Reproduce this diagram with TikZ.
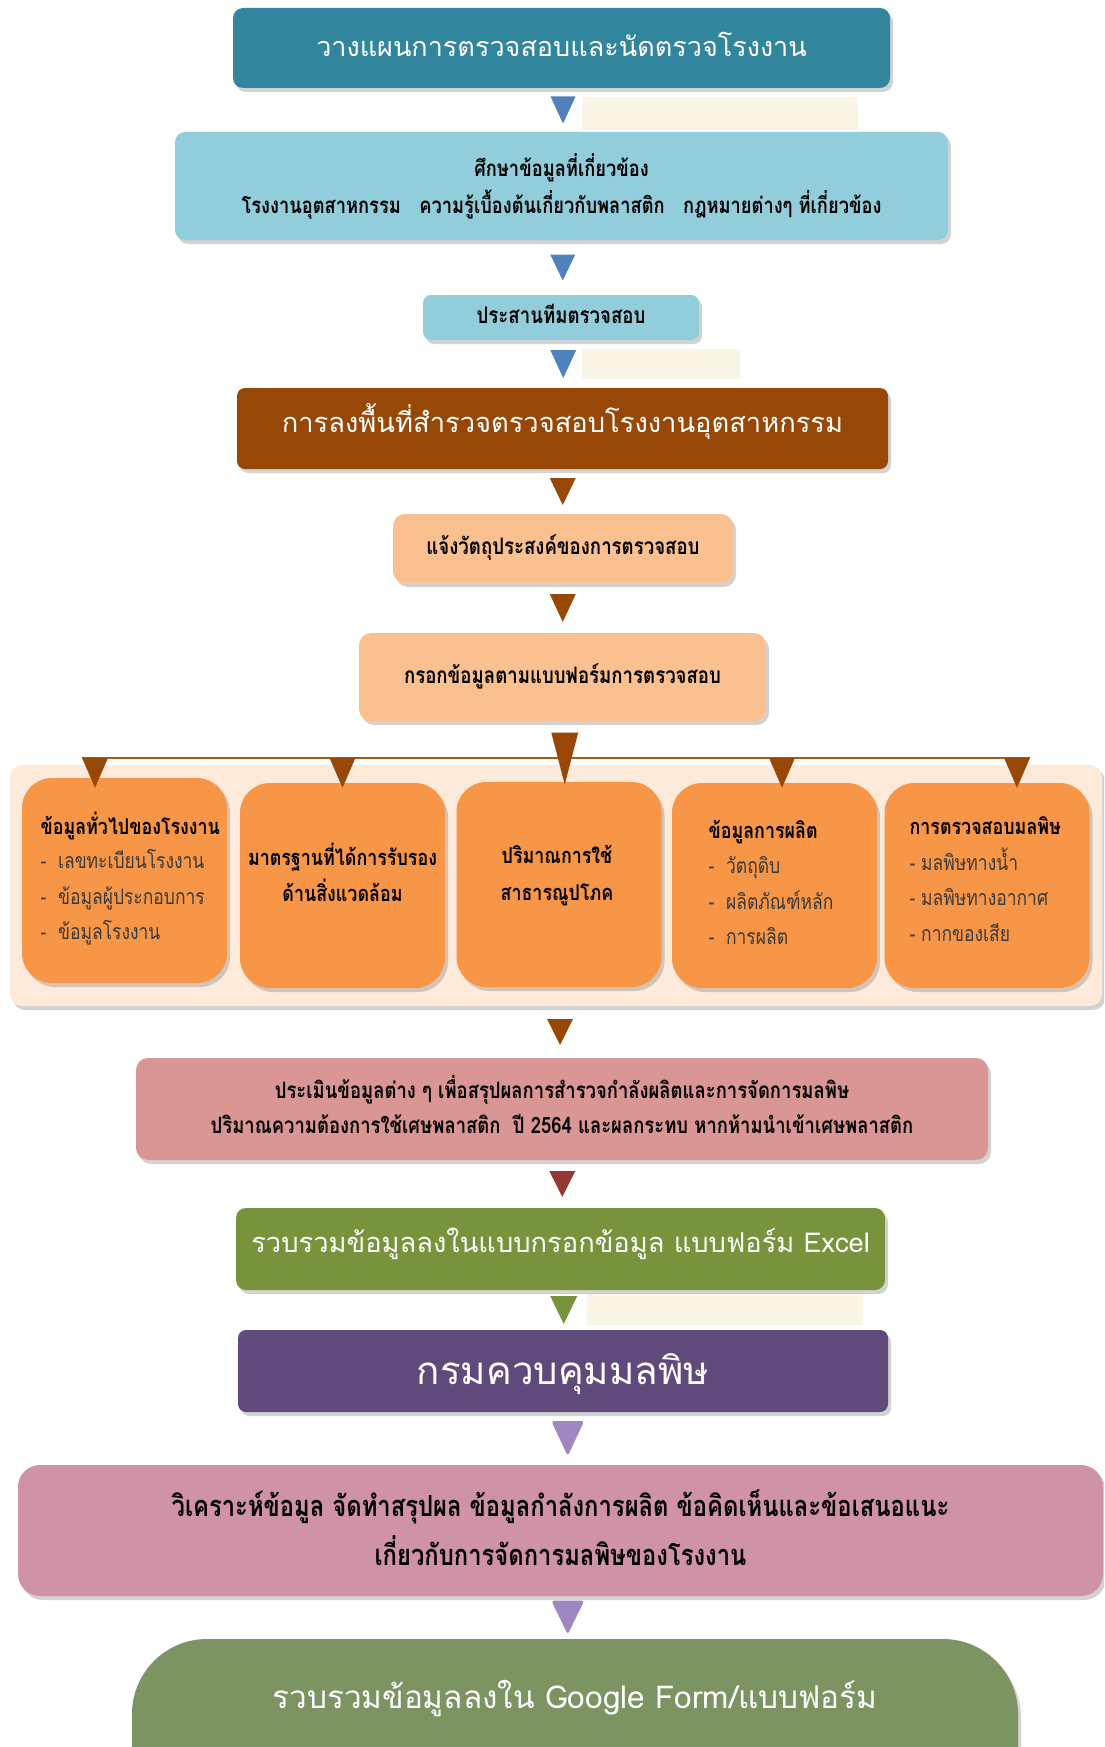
\documentclass[tikz,border=0pt]{standalone}
\usepackage{fontspec}
\setmainfont{Loma}[Script=Thai]
\newfontfamily\lw[Script=Thai]{Loma}
\newfontfamily\lc[Script=Thai,FakeStretch=0.82]{Loma}
\usetikzlibrary{shadows,calc}
\newcommand\rb[2]{\raisebox{#1}[\height][\depth]{#2}}
\definecolor{cTeal}{HTML}{31859C}
\definecolor{cBlueA}{HTML}{4F81BD}
\definecolor{cCream}{HTML}{FAF6E6}
\definecolor{cLBlue}{HTML}{92CDDC}
\definecolor{cBrown}{HTML}{974806}
\definecolor{cPeach}{HTML}{FAC090}
\definecolor{cPanel}{HTML}{FDEADA}
\definecolor{cOrange}{HTML}{F79646}
\definecolor{cPink}{HTML}{DA9694}
\definecolor{cDRed}{HTML}{953735}
\definecolor{cGreen}{HTML}{77933C}
\definecolor{cPurple}{HTML}{604A7B}
\definecolor{cLav}{HTML}{9F87C2}
\definecolor{cMauve}{HTML}{D092A6}
\definecolor{cSage}{HTML}{7B9461}
\definecolor{cFan}{HTML}{A65A1A}
\definecolor{cItem}{HTML}{3A3A3A}
\tikzset{
  box/.style={rounded corners=10pt, inner sep=0pt, align=center,
    drop shadow={opacity=0.35, shadow xshift=3pt, shadow yshift=-4pt}},
  whitetxt/.style={text=white, font=\lw\fontsize{#1}{#1}\selectfont},
  darktxt/.style 2 args={text=black, font=\lc\bfseries\fontsize{#1}{#2}\selectfont},
  itemtxt/.style={text=cItem, font=\lc\fontsize{21.3}{35.5}\selectfont, anchor=north west, align=left},
  pics/dtri/.style n args={3}{code={\fill[#1] (-#2/2,-#3/2) -- (#2/2,-#3/2) -- (0,#3/2) -- cycle;}}
}
\begin{document}
\begin{tikzpicture}[x=1pt,y=-1pt]
\useasboundingbox (0,0) rectangle (1104,1747);
\clip (0,0) rectangle (1104,1747);
\fill[white] (0,0) rectangle (1104,1747);

% cream strips
\fill[cCream] (582,97) rectangle (858,130);
\fill[cCream] (582,349) rectangle (740,379);
\fill[cCream] (587,1293) rectangle (863,1325);

% main chain
\node[box, fill=cTeal, minimum width=657, minimum height=80, whitetxt=27] (plan) at (561.5,48) {\rb{3.3pt}{วางแผนการตรวจสอบและนัดตรวจโรงงาน}};
\node[box, fill=cLBlue, minimum width=773, minimum height=108, darktxt={22.3}{37}] (study) at (561.5,186)
  {ศึกษาข้อมูลที่เกี่ยวข้อง\\ โรงงานอุตสาหกรรม\ \ \ ความรู้เบื้องต้นเกี่ยวกับพลาสติก\ \ \ กฎหมายต่างๆ ที่เกี่ยวข้อง};
\node[box, rounded corners=8pt, fill=cLBlue, minimum width=276, minimum height=45, darktxt={22.7}{27}] (team) at (561,317.5) {\rb{3.3pt}{ประสานทีมตรวจสอบ}};
\node[box, rounded corners=8pt, fill=cBrown, minimum width=651, minimum height=81, whitetxt=27.3] (field) at (562.5,428.5) {\rb{6.7pt}{การลงพื้นที่สำรวจตรวจสอบโรงงานอุตสาหกรรม}};
\node[box, rounded corners=12pt, fill=cPeach, minimum width=340, minimum height=69, darktxt={22.7}{27}] (notify) at (563,548.5) {\rb{1pt}{แจ้งวัตถุประสงค์ของการตรวจสอบ}};
\node[box, rounded corners=12pt, fill=cPeach, minimum width=407, minimum height=88, darktxt={22.7}{27}] (form) at (562.5,677) {\rb{1pt}{กรอกข้อมูลตามแบบฟอร์มการตรวจสอบ}};

% panel and five boxes
\node[box, rounded corners=12pt, fill=cPanel, minimum width=1092, minimum height=241] (panel) at (556,885.5) {};
\node[box, rounded corners=30pt, fill=cOrange, minimum width=205, minimum height=205] (b1) at (124.5,880.5) {};
\node[box, rounded corners=30pt, fill=cOrange, minimum width=205, minimum height=205] (b2) at (342.5,885.5) {};
\node[box, rounded corners=30pt, fill=cOrange, minimum width=205, minimum height=205] (b3) at (559,884.5) {};
\node[box, rounded corners=30pt, fill=cOrange, minimum width=205, minimum height=205] (b4) at (774.5,885.5) {};
\node[box, rounded corners=30pt, fill=cOrange, minimum width=205, minimum height=205] (b5) at (987,885.5) {};

\node[darktxt={21.8}{27}, anchor=west] (b1t) at (37,826) {ข้อมูลทั่วไปของโรงงาน};
\node[itemtxt] (b1i) at (37,846) {-\ \ เลขทะเบียนโรงงาน\\ -\ \ ข้อมูลผู้ประกอบการ\\ -\ \ ข้อมูลโรงงาน};
\node[darktxt={21.8}{36}, align=center] (b2t) at (342.5,872.5) {มาตรฐานที่ได้การรับรอง\\ ด้านสิ่งแวดล้อม};
\node[darktxt={21.8}{37}, align=center] (b3t) at (557,876) {ปริมาณการใช้\\ สาธารณูปโภค};
\node[darktxt={21.8}{27}, anchor=west] (b4t) at (705,832) {ข้อมูลการผลิต};
\node[itemtxt] (b4i) at (705,853.3) {-\ \ วัตถุดิบ\\ -\ \ ผลิตภัณฑ์หลัก\\ -\ \ การผลิต};
\node[darktxt={21.8}{27}, anchor=west] (b5t) at (906,826) {การตรวจสอบมลพิษ};
\node[itemtxt] (b5i) at (906,844) {- มลพิษทางน้ำ\\ - มลพิษทางอากาศ\\ - กากของเสีย};

% lower chain
\node[box, rounded corners=12pt, fill=cPink, minimum width=852, minimum height=102, darktxt={22.5}{35}] (eval) at (562,1109)
  {\begin{tabular}{@{}c@{}}ประเมินข้อมูลต่าง ๆ เพื่อสรุปผลการสำรวจกำลังผลิตและการจัดการมลพิษ\\ ปริมาณความต้องการใช้เศษพลาสติก\ \ ปี 2564 และผลกระทบ หากห้ามนำเข้าเศษพลาสติก\end{tabular}};
\node[box, rounded corners=10pt, fill=cGreen, minimum width=649, minimum height=82, whitetxt=27.3] (excel) at (560.5,1249) {\rb{5.5pt}{รวบรวมข้อมูลลงในแบบกรอกข้อมูล แบบฟอร์ม Excel}};
\node[box, rounded corners=8pt, fill=cPurple, minimum width=650, minimum height=82, whitetxt=38.5] (pcd) at (563,1371) {\rb{-3.3pt}{กรมควบคุมมลพิษ}};
\node[box, rounded corners=22pt, fill=cMauve, minimum width=1085, minimum height=131, darktxt={29}{49}] (anal) at (560.5,1530.5)
  {\rb{-1pt}{\begin{tabular}{@{}c@{}}วิเคราะห์ข้อมูล จัดทำสรุปผล ข้อมูลกำลังการผลิต ข้อคิดเห็นและข้อเสนอแนะ\\ เกี่ยวกับการจัดการมลพิษของโรงงาน\end{tabular}}};
\node[box, rounded corners=75pt, fill=cSage, minimum width=886, minimum height=200, drop shadow={opacity=0}] (gform) at (575,1739) {};
\node[whitetxt=31.5] (gformt) at (575,1698) {รวบรวมข้อมูลลงใน Google Form/แบบฟอร์ม};

% connectors (triangles)
\pic at ($(plan.south)!.5!(study.north)+(1.5,0)$) {dtri={cBlueA}{25}{27}};
\pic at ($(study.south)!.5!(team.north)+(1.5,0)$) {dtri={cBlueA}{25}{26}};
\pic at ($(team.south)!.5!(field.north)+(1.5,0)$) {dtri={cBlueA}{26}{28}};
\pic at ($(field.south)!.5!(notify.north)$) {dtri={cBrown}{26}{27}};
\pic at ($(notify.south)!.5!(form.north)$) {dtri={cBrown}{26}{28}};
\coordinate (fanL) at (82,758);
\coordinate (fanR) at (1030,758);
\draw[cFan, line width=2pt] (fanL) -- (fanR);
\pic at ($(form.south)!.5!(b3.north)+(4,7)$) {dtri={cBrown}{27}{52}};
\pic at ($(b1.north)+(-29.5,-5)$) {dtri={cBrown}{26}{30}};
\pic at ($(b2.north)+(0,-10)$) {dtri={cBrown}{26}{30}};
\pic at ($(b4.north)+(7.5,-10)$) {dtri={cBrown}{26}{30}};
\pic at ($(b5.north)+(30,-10)$) {dtri={cBrown}{26}{30}};
\pic at ($(panel.south)!.5!(eval.north)+(1,0)$) {dtri={cBrown}{26}{26}};
\pic at ($(eval.south)!.5!(excel.north)+(1,0)$) {dtri={cDRed}{26}{26}};
\pic at ($(excel.south)!.5!(pcd.north)+(2,0)$) {dtri={cGreen}{27}{28}};
\pic at ($(pcd.south)!.5!(anal.north)+(6,0)$) {dtri={cLav, rounded corners=3pt}{33}{35}};
\pic at ($(anal.south)!.5!(gform.north)$) {dtri={cLav, rounded corners=3pt}{33}{34}};
\end{tikzpicture}
\end{document}
